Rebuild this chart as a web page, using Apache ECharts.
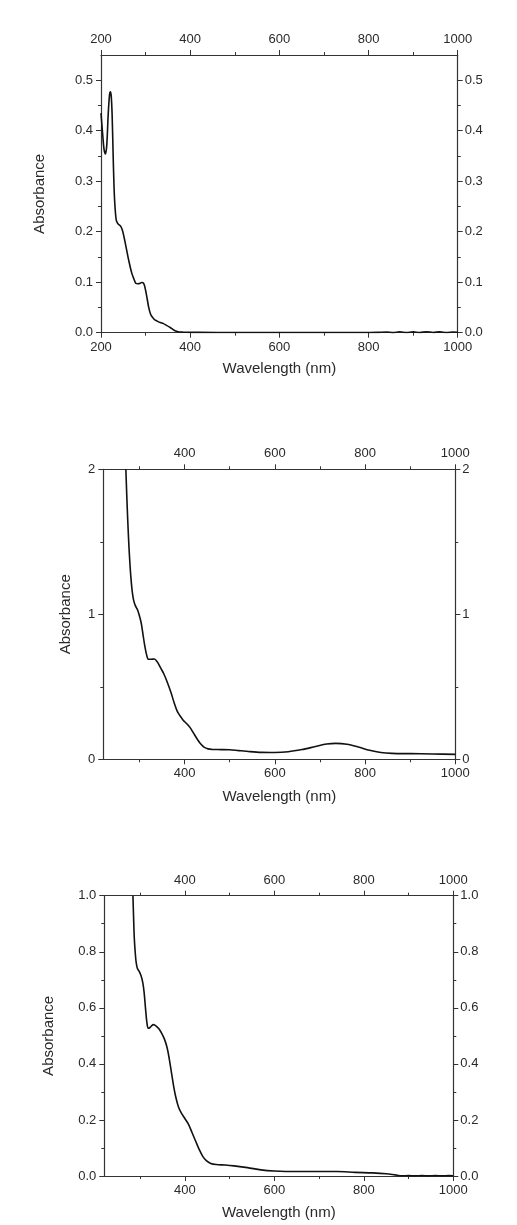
<!DOCTYPE html>
<html>
<head>
<meta charset="utf-8">
<script src="https://cdn.jsdelivr.net/npm/echarts@6/dist/echarts.min.js"></script>
<style>
  html, body { margin: 0; padding: 0; background: #ffffff; }
  #chart { width: 517px; height: 1225px; }
</style>
</head>
<body>
<div id="chart"></div>
<script>
// ---- Spectrum A (200–1000 nm) ----
const wavelengthA = [200, 204, 207, 210, 213, 216, 219, 221, 223, 225, 227, 229, 231, 234, 237, 240, 244, 248, 252, 257, 263, 269, 274, 278, 283, 288, 291, 294, 297, 300, 303, 307, 311, 315, 320, 326, 333, 340, 346, 352, 359, 366, 373, 381, 390, 420, 500, 600, 700, 800, 820, 840, 855, 870, 885, 900, 915, 930, 945, 960, 975, 990, 1000];
const absorbanceA = [0.435, 0.39, 0.362, 0.354, 0.372, 0.43, 0.47, 0.477, 0.468, 0.43, 0.36, 0.295, 0.255, 0.224, 0.217, 0.214, 0.211, 0.203, 0.188, 0.166, 0.140, 0.118, 0.106, 0.098, 0.097, 0.098, 0.0995, 0.099, 0.095, 0.084, 0.070, 0.050, 0.037, 0.031, 0.026, 0.023, 0.020, 0.018, 0.015, 0.012, 0.008, 0.004, 0.002, 0.0012, 0.0008, 0.0006, 0.0005, 0.0004, 0.0004, 0.0005, 0.0006, 0.0015, 0.0002, 0.0018, 0.0003, 0.0016, 0.0004, 0.002, 0.0005, 0.0017, 0.0003, 0.0015, 0.0008];

// ---- Spectrum B ----
const wavelengthB = [270, 272, 274, 276, 278, 281, 284, 287, 291, 296, 300, 304, 308, 312, 316, 320, 326, 333, 340, 347, 354, 362, 370, 377, 384, 390, 397, 405, 412, 420, 428, 436, 444, 452, 462, 480, 500, 520, 545, 570, 600, 630, 660, 690, 715, 735, 760, 785, 810, 835, 860, 900, 950, 1000];
const absorbanceB = [2.0, 1.82, 1.66, 1.52, 1.40, 1.26, 1.16, 1.10, 1.06, 1.03, 0.99, 0.94, 0.86, 0.78, 0.72, 0.69, 0.69, 0.692, 0.67, 0.63, 0.59, 0.53, 0.46, 0.39, 0.33, 0.30, 0.27, 0.245, 0.22, 0.18, 0.14, 0.105, 0.082, 0.072, 0.068, 0.067, 0.066, 0.060, 0.053, 0.048, 0.047, 0.052, 0.067, 0.088, 0.105, 0.110, 0.104, 0.085, 0.062, 0.047, 0.041, 0.039, 0.037, 0.034];

// ---- Spectrum C ----
const wavelengthC = [284, 285.5, 287, 289, 291, 294, 298, 302, 306, 309, 312, 315, 318, 321, 325, 330, 336, 342, 348, 354, 360, 365, 370, 375, 380, 386, 392, 400, 408, 416, 424, 432, 440, 448, 458, 470, 490, 510, 540, 570, 600, 650, 700, 740, 780, 820, 850, 870, 885, 900, 915, 930, 945, 960, 975, 990, 1000];
const absorbanceC = [1.0, 0.92, 0.85, 0.80, 0.765, 0.74, 0.73, 0.715, 0.69, 0.655, 0.60, 0.55, 0.527, 0.528, 0.535, 0.54, 0.535, 0.525, 0.51, 0.49, 0.46, 0.42, 0.37, 0.32, 0.28, 0.245, 0.225, 0.205, 0.185, 0.155, 0.125, 0.095, 0.07, 0.055, 0.045, 0.041, 0.039, 0.036, 0.030, 0.022, 0.018, 0.016, 0.016, 0.016, 0.013, 0.011, 0.008, 0.004, 0.001, 0.0012, 0.0004, 0.0015, 0.0003, 0.0013, 0.0005, 0.0012, 0.0006];

// ---- Tick values ----
const xMajorA = [200, 400, 600, 800, 1000];
const xMajorBC = [400, 600, 800, 1000];
const xMinor = [300, 500, 700, 900];
const yMajorA = [0, 0.1, 0.2, 0.3, 0.4, 0.5];
const yMinorA = [0.05, 0.15, 0.25, 0.35, 0.45];
const yMajorB = [0, 1, 2];
const yMinorB = [0.5, 1.5];
const yMajorC = [0, 0.2, 0.4, 0.6, 0.8, 1.0];
const yMinorC = [0.1, 0.3, 0.5, 0.7, 0.9];

const AXIS = '#333333';
const TXT = '#2a2a2a';
const FONT = '"Liberation Sans", Arial, sans-serif';

const panels = [
  { grid: { left: 101, right: 59.3, top: 55, height: 277.7 },
    xMin: 200, xMax: 1000, yMin: 0, yMax: 0.55,
    xMajor: xMajorA, xMinor: xMinor, yMajor: yMajorA, yMinor: yMinorA,
    yFmt: v => v.toFixed(1), xGap: 29, yGap: 53.5,
    wl: wavelengthA, ab: absorbanceA },
  { grid: { left: 103.3, right: 61.7, top: 469.3, height: 290 },
    xMin: 220, xMax: 1000, yMin: 0, yMax: 2,
    xMajor: xMajorBC, xMinor: xMinor, yMajor: yMajorB, yMinor: yMinorB,
    yFmt: v => String(Math.round(v)), xGap: 30, yGap: 30,
    wl: wavelengthB, ab: absorbanceB },
  { grid: { left: 104.3, right: 63.7, top: 895.7, height: 280.3 },
    xMin: 220, xMax: 1000, yMin: 0, yMax: 1.0,
    xMajor: xMajorBC, xMinor: xMinor, yMajor: yMajorC, yMinor: yMinorC,
    yFmt: v => v.toFixed(1), xGap: 29.5, yGap: 48,
    wl: wavelengthC, ab: absorbanceC }
];

const grids = [], xAxes = [], yAxes = [], series = [];
const labelStyle = { fontSize: 13, color: TXT, fontFamily: FONT };
const nameStyle = { fontSize: 15, color: TXT, fontFamily: FONT };

panels.forEach((p, g) => {
  grids.push(p.grid);
  const mainX = xAxes.length;
  ['bottom', 'top'].forEach(pos => {
    // major ticks, labels and frame line
    xAxes.push({
      type: 'value', gridIndex: g, position: pos, min: p.xMin, max: p.xMax,
      axisLine: { show: true, onZero: false, lineStyle: { color: AXIS, width: 1.2 } },
      splitLine: { show: false },
      axisTick: { show: true, inside: false, length: 5, customValues: p.xMajor, lineStyle: { color: AXIS, width: 1 } },
      axisLabel: Object.assign({ show: true, margin: pos === 'bottom' ? 8 : 9, customValues: p.xMajor, formatter: v => String(Math.round(v)) }, labelStyle),
      name: pos === 'bottom' ? 'Wavelength (nm)' : '',
      nameLocation: 'middle', nameGap: p.xGap, nameTextStyle: nameStyle
    });
    // minor ticks
    xAxes.push({
      type: 'value', gridIndex: g, position: pos, min: p.xMin, max: p.xMax,
      axisLine: { show: false, onZero: false }, splitLine: { show: false },
      axisTick: { show: true, inside: false, length: 3, customValues: p.xMinor, lineStyle: { color: AXIS, width: 1 } },
      axisLabel: { show: false }
    });
  });
  const mainY = yAxes.length;
  ['left', 'right'].forEach(pos => {
    yAxes.push({
      type: 'value', gridIndex: g, position: pos, min: p.yMin, max: p.yMax,
      axisLine: { show: true, onZero: false, lineStyle: { color: AXIS, width: 1.2 } },
      splitLine: { show: false },
      axisTick: { show: true, inside: false, length: 5, customValues: p.yMajor, lineStyle: { color: AXIS, width: 1 } },
      axisLabel: Object.assign({ show: true, margin: pos === 'left' ? 8 : 7, customValues: p.yMajor, formatter: p.yFmt }, labelStyle),
      name: pos === 'left' ? 'Absorbance' : '',
      nameLocation: 'middle', nameGap: p.yGap, nameRotate: 90, nameTextStyle: nameStyle
    });
    yAxes.push({
      type: 'value', gridIndex: g, position: pos, min: p.yMin, max: p.yMax,
      axisLine: { show: false, onZero: false }, splitLine: { show: false },
      axisTick: { show: true, inside: false, length: 3, customValues: p.yMinor, lineStyle: { color: AXIS, width: 1 } },
      axisLabel: { show: false }
    });
  });
  series.push({
    type: 'line', xAxisIndex: mainX, yAxisIndex: mainY,
    data: p.wl.map((w, i) => [w, p.ab[i]]),
    showSymbol: false, smooth: 0.3, clip: true,
    lineStyle: { color: '#111111', width: 1.6 },
    silent: true
  });
});

const chart = echarts.init(document.getElementById('chart'), null, { renderer: 'canvas' });
chart.setOption({
  animation: false,
  backgroundColor: '#ffffff',
  grid: grids,
  xAxis: xAxes,
  yAxis: yAxes,
  series: series
});
</script>
</body>
</html>
